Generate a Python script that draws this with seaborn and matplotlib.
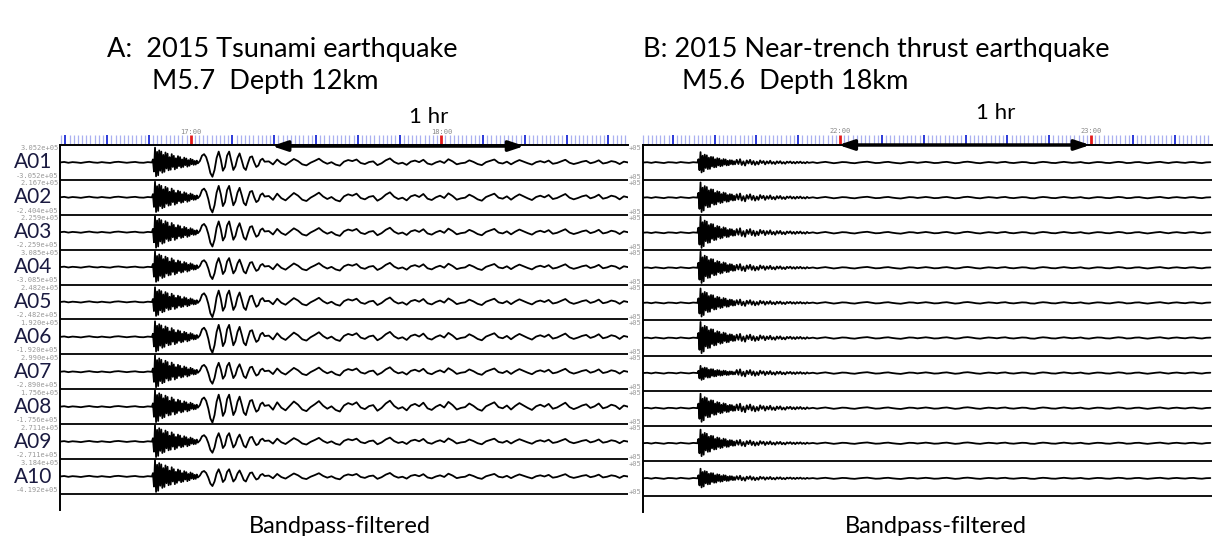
import numpy as np
import pandas as pd
import seaborn as sns
import matplotlib
matplotlib.use('Agg')
import matplotlib.pyplot as plt

## Data

# station names
stations = ['A01', 'A02', 'A03', 'A04', 'A05', 'A06', 'A07', 'A08', 'A09', 'A10']

# amplitude range labels, panel A (top / bottom of each row)
amp_top = ['3.052e+05', '2.167e+05', '2.259e+05', '3.085e+05', '2.482e+05',
           '1.920e+05', '2.990e+05', '1.756e+05', '2.711e+05', '3.184e+05']
amp_bottom = ['-3.052e+05', '-2.404e+05', '-2.259e+05', '-3.085e+05', '-2.482e+05',
              '-1.920e+05', '-2.890e+05', '-1.756e+05', '-2.711e+05', '-4.192e+05']

# panel A waveform pieces (normalised)
noise_a = [0.00, 0.03, -0.02, 0.02, 0.00, -0.03, 0.01, 0.04, 0.00, -0.02, 0.02, -0.01,
           -0.03, 0.02, 0.04, 0.01, -0.02, 0.01, 0.03, -0.01, -0.02, 0.02, 0.00]
burst_a = [0.20, -0.60, 0.98, -0.92, 0.70, -0.85, 0.80, -0.55, 0.72, -0.68, 0.50, -0.62,
           0.66, -0.40, 0.58, -0.52, 0.35, -0.48, 0.55, -0.30, 0.44, -0.46, 0.28, -0.38,
           0.42, -0.25, 0.36, -0.34, 0.20, -0.30, 0.32, -0.18, 0.26, -0.28, 0.15, -0.22,
           0.24, -0.12, 0.18, -0.16, 0.10, -0.14, 0.12, -0.06]
surface_a = [0.10, 0.45, 0.55, 0.35, -0.10, -0.70, -0.95, -0.50, 0.30, 0.72, 0.20, -0.55,
             -0.30, 0.45, 0.72, 0.10, -0.50, -0.25, 0.30, 0.60, 0.15, -0.35, -0.50, -0.05,
             0.35, 0.40, 0.00, -0.30, -0.20, 0.15, 0.25, 0.05]
coda_a = [0.08, -0.15, 0.22, -0.05, -0.18, 0.04, 0.26, 0.10, -0.14, -0.22,
          -0.02, 0.12, 0.28, 0.05, -0.10, 0.02, -0.16, -0.24, 0.06, 0.18,
          0.10, 0.22, -0.04, -0.12, 0.03, 0.08, -0.20, -0.06, 0.16, 0.30,
          0.04, -0.10, -0.02, -0.18, 0.06, 0.14, 0.02, 0.20, -0.08, -0.16,
          0.00, 0.10, -0.04, 0.24, 0.08, -0.14, -0.06, -0.02, 0.16, 0.04,
          -0.12, -0.20, 0.02, 0.12, 0.22, -0.02, -0.08, 0.06, -0.14, 0.04,
          0.18, 0.06, -0.06, -0.16, 0.02, 0.10, 0.00, 0.14, -0.10, -0.04,
          0.08, 0.20, -0.02, -0.12, -0.04, 0.06, 0.12, -0.06, 0.02,
          0.16, -0.08, -0.02, 0.10, 0.04, -0.12, 0.06, 0.00]
# gains per station: noise, burst, surface, coda
gains_a = [[1, 0.90, 0.90, 0.8], [1, 0.95, 0.95, 1.0], [1, 1.00, 0.90, 0.9],
           [1, 0.95, 0.75, 0.85], [1, 0.90, 0.95, 0.9], [1, 0.95, 1.00, 1.0],
           [1, 1.00, 0.75, 0.9], [1, 1.00, 1.00, 1.2], [1, 1.00, 0.70, 0.8],
           [1, 1.00, 0.60, 0.7]]

# panel B waveform pieces
noise_b = [0.00, 0.02, -0.02, 0.03, 0.00, -0.03, 0.02, 0.01, -0.02, 0.03, 0.00, -0.02, 0.02, 0.00]
burst_b = [0.30, -0.70, 0.95, -0.90, 0.62, -0.80, 0.72, -0.50, 0.66, -0.60, 0.45, -0.58,
           0.52, -0.36, 0.50, -0.44, 0.30, -0.42, 0.40, -0.26, 0.36, -0.34, 0.22, -0.30,
           0.32, -0.18, 0.28, -0.26, 0.16, -0.24, 0.22, -0.14, 0.20, -0.18, 0.12, -0.16]
tail_b = [0.18, -0.10, 0.22, -0.16, 0.08, -0.20, 0.14, -0.06, 0.18, -0.12, 0.10, -0.16,
          0.06, -0.12, 0.14, -0.04, 0.10, -0.12, 0.08, -0.06, 0.12, -0.08, 0.04, -0.10,
          0.08, -0.04, 0.09, -0.07, 0.03, -0.08, 0.06, -0.02, 0.07, -0.05, 0.04, -0.06,
          0.05, -0.03, 0.06, -0.04, 0.02, -0.05, 0.04, -0.02]
after_b = [0.02, -0.03, 0.01, 0.04, 0.00, -0.04, -0.01, 0.03, 0.02, -0.02,
           -0.04, 0.00, 0.03, 0.05, 0.01, -0.03, -0.02, 0.02, 0.04, 0.00,
           -0.03, -0.05, -0.01, 0.03, 0.02, -0.02, 0.01, 0.04, 0.01, -0.03,
           -0.02, 0.02, 0.04, 0.00, -0.04, -0.02, 0.03, 0.05, 0.02, -0.02,
           -0.04, 0.00, 0.03, 0.01, -0.02, 0.02, 0.04, -0.01, -0.03, 0.00,
           0.03, 0.02, -0.03, -0.04, 0.01, 0.04, 0.02, -0.02, -0.03, 0.01,
           0.04, 0.01, -0.02, 0.00, 0.03, -0.02, -0.04, 0.00, 0.03, 0.02,
           -0.02, -0.03, 0.01, 0.04, 0.02, -0.03, -0.02, 0.02, 0.03, -0.01,
           -0.04, -0.01, 0.02, 0.04, 0.00, -0.03, 0.01, 0.03, 0.00, -0.02,
           0.02, 0.03, -0.01, -0.03, 0.01, 0.02]
gains_b = [[1, 0.65, 0.9, 1.0], [1, 0.95, 1.1, 1.0], [1, 1.00, 1.2, 1.1],
           [1, 1.00, 1.0, 1.0], [1, 0.90, 0.9, 1.0], [1, 1.00, 1.1, 1.0],
           [1, 0.45, 1.0, 1.0], [1, 0.90, 1.2, 1.0], [1, 0.85, 0.9, 0.9],
           [1, 0.60, 0.7, 0.8]]

# record start times (minutes of day): A 16:28.7, B 21:12.9
start_a = 16 * 60 + 28.7
start_b = 21 * 60 + 12.9
span = 136


def build(segments, steps, gains):
    rows = []
    for i, g in enumerate(gains):
        t = None
        for seg, dt, gi in zip(segments, steps, g):
            for v in seg:
                t = 0.0 if t is None else t + dt
                rows.append((i, t, -(i + 0.5) + v * gi * 0.48))
    return pd.DataFrame(rows, columns=['trace', 'minute', 'y'])


df_a = build([noise_a, burst_a, surface_a, coda_a], [1.0, 0.25, 0.5, 1.0], gains_a)
df_b = build([noise_b, burst_b, tail_b, after_b], [1.0, 0.25, 0.4, 1.0], gains_b)

sns.set_style('white')
plt.rcParams['font.family'] = ['Lato', 'DejaVu Sans']

W, H = 1215, 536
fig = plt.figure(figsize=(W / 100, H / 100), dpi=100)
ax_a = fig.add_axes([60 / W, 1 - 510 / H, 568 / W, 365 / H])
ax_b = fig.add_axes([643 / W, 1 - 512 / H, 569 / W, 367 / H])


def setup(ax, df, start):
    sns.lineplot(data=df, x='minute', y='y', units='trace', estimator=None, sort=False,
                 color='black', lw=1.3, ax=ax, legend=False)
    ax.set_xlim(0, span)
    ax.set_ylim(-10.46, 0)
    ax.set_xticks([])
    ax.set_yticks([])
    ax.set_xlabel('')
    ax.set_ylabel('')
    for s in ['right', 'bottom']:
        ax.spines[s].set_visible(False)
    for s in ['top', 'left']:
        ax.spines[s].set_linewidth(1.4)
        ax.spines[s].set_color('black')
    for k in range(1, 11):
        ax.axhline(-k, color='black', lw=1.3)
    # time tick strip
    clock = np.arange(np.ceil(start), start + span)
    pos = clock - start
    minor = clock % 10 != 0
    major = (clock % 10 == 0) & (clock % 60 != 0)
    red = clock % 60 == 0
    ax.vlines(pos[minor], 0.03, 0.29, color='#aab0f0', lw=0.9, clip_on=False)
    ax.vlines(pos[major], 0.03, 0.29, color='#1c2bd6', lw=1.3, clip_on=False)
    ax.vlines(pos[red], 0.03, 0.29, color='#e31b1b', lw=2.0, clip_on=False)
    for p, c in zip(pos[red], clock[red]):
        ax.text(p, 0.30, '%02d:%02d' % (c // 60, c % 60), fontsize=5, color='#888888',
                ha='center', va='bottom', family='DejaVu Sans Mono')


setup(ax_a, df_a, start_a)
setup(ax_b, df_b, start_b)

# station names and amplitude labels
for i, name in enumerate(stations):
    ax_a.text(-1.9, -(i + 0.5), name, fontsize=15, color='#1a1a40', ha='right', va='center',
              clip_on=False)
    ax_a.text(-0.3, -i - 0.1, amp_top[i], fontsize=5, color='#999999', ha='right', va='center',
              family='DejaVu Sans Mono', clip_on=False)
    ax_a.text(-0.3, -(i + 1) + 0.12, amp_bottom[i], fontsize=5, color='#999999', ha='right',
              va='center', family='DejaVu Sans Mono', clip_on=False)
    ax_b.text(-0.3, -i - 0.08, '+05', fontsize=5, color='#999999', ha='right', va='center',
              family='DejaVu Sans Mono', clip_on=False)
    ax_b.text(-0.3, -(i + 1) + 0.1, '+05', fontsize=5, color='#999999', ha='right', va='center',
              family='DejaVu Sans Mono', clip_on=False)

# one-hour arrows
arrow = dict(arrowstyle='<|-|>,head_length=0.9,head_width=0.3', color='black', lw=2.5,
             shrinkA=0, shrinkB=0)
ax_a.annotate('', xy=(111.2, -0.03), xytext=(50.7, -0.03), arrowprops=arrow,
              annotation_clip=False)
ax_b.annotate('', xy=(106.9, 0.0), xytext=(46.7, 0.0), arrowprops=arrow,
              annotation_clip=False)


def ftext(x, y, s, size, ha='left'):
    fig.text(x / W, 1 - y / H, s, fontsize=size, ha=ha, va='baseline', color='black')


ftext(107, 57, 'A:  2015 Tsunami earthquake', 19.5)
ftext(152, 89, 'M5.7  Depth 12km', 19.5)
ftext(643, 57, 'B: 2015 Near-trench thrust earthquake', 19.5)
ftext(682, 89, 'M5.6  Depth 18km', 19.5)
ftext(429, 123, '1 hr', 16, ha='center')
ftext(996, 119, '1 hr', 16, ha='center')
ftext(340, 533, 'Bandpass-filtered', 17, ha='center')
ftext(936, 533, 'Bandpass-filtered', 17, ha='center')

fig.savefig('out.png', dpi=100)
